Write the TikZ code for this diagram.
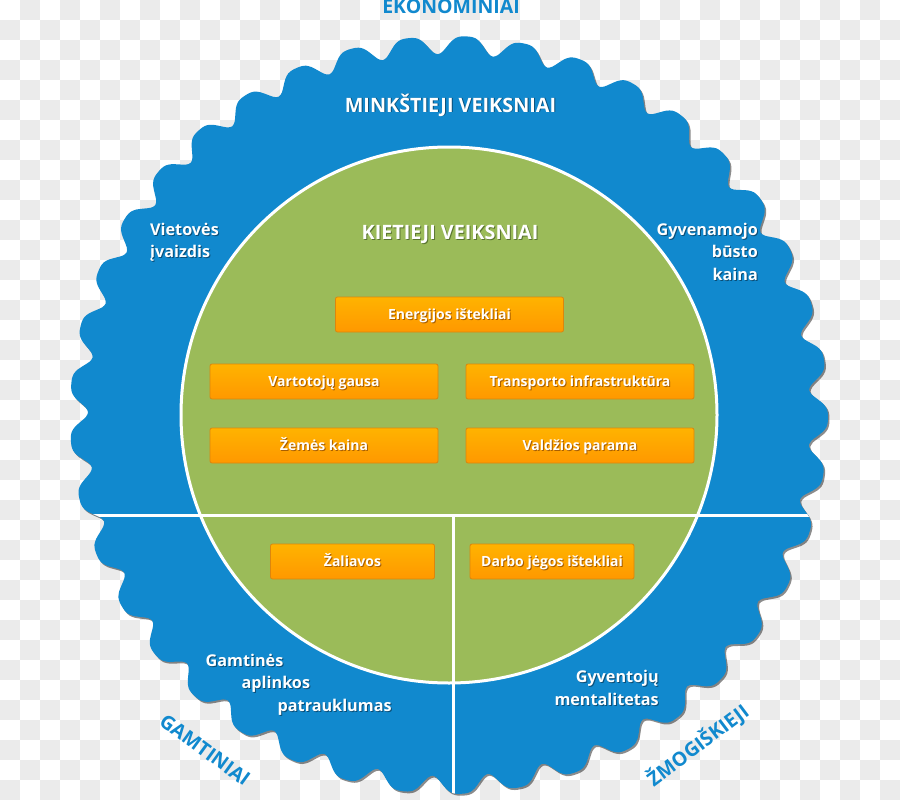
\documentclass[tikz,border=0pt]{standalone}
\usepackage{fontspec}
\setmainfont{Open Sans}
\definecolor{blueF}{HTML}{1189CE}
\definecolor{greenF}{HTML}{9BBB59}
\definecolor{orTop}{HTML}{FFB300}
\definecolor{orBot}{HTML}{FF9800}
\definecolor{orBorder}{HTML}{DB860E}
\definecolor{checkG}{HTML}{EBEBEB}
\definecolor{shB}{HTML}{0A4E78}
\definecolor{shG}{HTML}{5A7530}
\definecolor{shO}{HTML}{A85E00}
\newcommand\shtxt[2]{\leavevmode\rlap{\kern1pt\raisebox{-1pt}{\textcolor{#1}{#2}}}#2}
\tikzset{
  bigtitle/.style={font=\bfseries\fontsize{19.8}{23}\selectfont, text=white, inner sep=0pt},
  sidetxt/.style={font=\bfseries\fontsize{16.2}{22}\selectfont, text=white, inner sep=0pt},
  cattxt/.style={font=\bfseries\fontsize{19.5}{23}\selectfont, text=blueF, inner sep=0pt},
  obox/.style={draw=orBorder, line width=0.8pt, rounded corners=2pt, top color=orTop, bottom color=orBot,
    minimum width=228pt, minimum height=35pt, inner sep=0pt, text height=12pt, text depth=2pt,
    text=white, font=\bfseries\fontsize{14}{16}\selectfont},
  sbox/.style={obox, minimum width=164pt}
}
\def\wavepath{plot[domain=4.8:364.8,samples=493,smooth] ({449+wr(\x)*cos(\x)},{415+wr(\x)*sin(\x)}) -- cycle}
\begin{document}
\begin{tikzpicture}[x=1pt,y=-1pt,
  declare function={wr(\t)=372+9*cos(41*(\t-184.8))-2*cos(82*(\t-184.8));}]
\useasboundingbox (0,0) rectangle (900,800);
% transparency checkerboard
\fill[white] (0,0) rectangle (900,800);
\foreach \i in {0,...,44}{
  \foreach \j in {0,...,39}{
    \pgfmathtruncatemacro\cpar{mod(\i+\j,2)}
    \ifnum\cpar=1 \fill[checkG] (\i*20,\j*20) rectangle ++(20,20);\fi
  }
}
% wavy blue disc with shadow
\begin{scope}[shift={(1.5,1.8)}]
  \fill[black,opacity=0.45] \wavepath;
\end{scope}
\fill[blueF] \wavepath;
% green core
\draw[white, line width=3pt, fill=greenF] (449,415) circle[radius=268];
% dividing lines
\begin{scope}
  \clip \wavepath;
  \draw[white, line width=3pt] (0,515) -- (900,515);
  \draw[white, line width=3pt] (453,515) -- (453,800);
\end{scope}
% category labels
\node[cattxt, anchor=base] (eko) at (451,13.5) {EKONOMINIAI};
\node[cattxt, rotate=-36] (gamt) at (205,750) {GAMTINIAI};
\node[cattxt, rotate=37] (zmog) at (698,745) {ŽMOGIŠKIEJI};
% titles
\node[bigtitle, anchor=base] (minkst) at (450.5,112) {\shtxt{shB}{MINKŠTIEJI VEIKSNIAI}};
\node[bigtitle, anchor=base] (kiet) at (450,239) {\shtxt{shG}{KIETIEJI VEIKSNIAI}};
% side labels
\node[sidetxt, anchor=base west] (viet1) at (150,235) {\shtxt{shB}{Vietovės}};
\node[sidetxt, anchor=base west] (viet2) at (150,257.5) {\shtxt{shB}{įvaizdis}};
\node[sidetxt, anchor=base east] (gyv1) at (758,235) {\shtxt{shB}{Gyvenamojo}};
\node[sidetxt, anchor=base east] (gyv2) at (758,257.5) {\shtxt{shB}{būsto}};
\node[sidetxt, anchor=base east] (gyv3) at (758,280) {\shtxt{shB}{kaina}};
\node[sidetxt, anchor=base west] (gam1) at (205.5,666) {\shtxt{shB}{Gamtinės}};
\node[sidetxt, anchor=base west] (gam2) at (241.5,688.5) {\shtxt{shB}{aplinkos}};
\node[sidetxt, anchor=base west] (gam3) at (277.5,711) {\shtxt{shB}{patrauklumas}};
\node[sidetxt, anchor=base east] (men1) at (659,682.5) {\shtxt{shB}{Gyventojų}};
\node[sidetxt, anchor=base east] (men2) at (659,705) {\shtxt{shB}{mentalitetas}};
% orange boxes
\node[obox] (energ) at (449.5,314.5) {\shtxt{shO}{Energijos ištekliai}};
\node[obox] (vart) at (324,381.5) {\shtxt{shO}{Vartotojų gausa}};
\node[obox] (transp) at (580,381.5) {\shtxt{shO}{Transporto infrastruktūra}};
\node[obox] (zemes) at (324,445.5) {\shtxt{shO}{Žemės kaina}};
\node[obox] (vald) at (580,445.5) {\shtxt{shO}{Valdžios parama}};
\node[sbox] (zal) at (352.5,561.5) {\shtxt{shO}{Žaliavos}};
\node[sbox] (darbo) at (552,561.5) {\shtxt{shO}{Darbo jėgos ištekliai}};
\end{tikzpicture}
\end{document}
